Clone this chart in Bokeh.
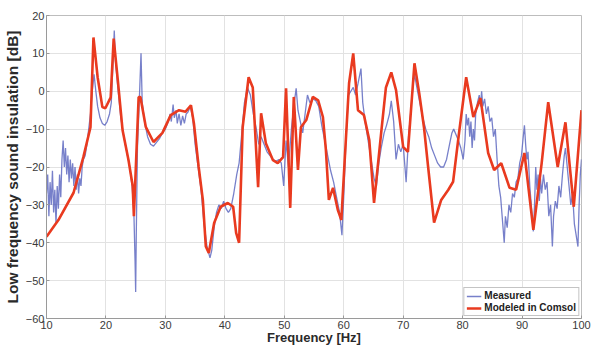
from bokeh.plotting import figure
from bokeh.models import FixedTicker, Range1d, Legend, LegendItem
from bokeh.embed import file_html
from bokeh.resources import INLINE

# Modeled in Comsol (red)
model_freq = [10.0, 12.0, 14.55, 16.2, 17.4, 17.9, 18.6, 19.4, 19.9, 20.8, 21.3, 22.0, 22.8, 23.8,
              24.5, 24.7, 25.5, 25.8, 26.7, 28.0, 29.5, 30.9, 32.3, 33.4, 34.3, 34.8, 35.6, 36.3,
              36.8, 37.3, 38.2, 39.3, 40.5, 41.4, 41.9, 42.4, 43.0, 44.0, 44.7, 45.6, 46.1, 46.9,
              48.1, 48.9, 49.8, 50.3, 51.0, 51.6, 52.3, 52.8, 53.7, 54.8, 55.7, 56.5, 57.0, 57.5,
              58.2, 59.0, 59.6, 60.1, 60.9, 61.6, 62.4, 63.4, 64.3, 65.1, 66.3, 67.1, 68.0, 68.8,
              70.0, 70.8, 71.9, 72.7, 73.5, 74.2, 75.2, 76.4, 77.6, 78.4, 79.4, 80.6, 81.8, 83.0,
              84.3, 85.3, 86.5, 87.9, 89.0, 90.4, 91.9, 93.3, 94.4, 96.0, 97.3, 98.7, 100.0]
model_db = [-38.4, -34.0, -26.8, -17.4, -9.5, 14.2, 3.7, -4.2, -4.5, -1.6, 13.9, 2.9, -10.3, -18.2,
            -25.0, -33.0, -1.5, -1.5, -9.4, -13.4, -11.0, -6.3, -5.0, -5.4, -3.7, -8.5, -20.0, -28.7,
            -41.0, -42.7, -34.8, -30.5, -29.5, -30.5, -37.4, -40.0, -9.5, 3.7, 1.0, -25.3, -5.8, -13.7,
            -18.2, -19.0, -17.4, 0.8, -30.8, -1.5, -20.8, -9.5, -7.6, -1.5, -2.4, -6.8, -15.5, -28.7,
            -25.5, -31.3, -34.0, -20.0, 2.1, 10.0, -5.0, -6.3, -12.9, -29.5, -11.0, 1.0, 5.0, 0.3,
            -14.7, -16.0, 7.4, -0.5, -9.5, -20.0, -34.7, -28.7, -26.0, -23.9, -11.0, 3.7, -6.8, -1.8,
            -16.3, -20.8, -19.0, -25.5, -26.0, -16.3, -36.6, -19.0, -2.9, -20.0, -8.2, -30.5, -5.0]

# Measured (blue)
meas_freq = [10.0, 10.2, 10.4, 10.6, 10.8, 11.0, 11.2, 11.4, 11.6, 11.8, 12.0, 12.2, 12.4, 12.6,
             12.8, 13.0, 13.2, 13.4, 13.6, 13.8, 14.0, 14.2, 14.4, 14.6, 14.8, 15.0, 15.2, 15.4,
             15.6, 15.8, 16.0, 16.2, 16.5, 16.8, 17.1, 17.4, 17.7, 18.0, 18.3, 18.6, 19.0, 19.4,
             19.8, 20.2, 20.6, 20.9, 21.2, 21.4, 21.6, 22.0, 22.5, 23.0, 23.5, 24.0, 24.4, 24.7,
             24.9, 25.0, 25.1, 25.3, 25.6, 25.9, 26.1, 26.5, 27.0, 27.5, 28.0, 28.5, 29.0, 29.5,
             30.0, 30.5, 30.8, 31.0, 31.3, 31.5, 31.8, 32.0, 32.3, 32.6, 32.9, 33.2, 33.5, 33.8,
             34.2, 34.6, 35.0, 35.5, 36.0, 36.5, 37.0, 37.5, 37.8, 38.2, 38.6, 39.0, 39.4, 39.8,
             40.2, 40.6, 41.0, 41.5, 42.0, 42.4, 42.8, 43.3, 43.8, 44.3, 44.8, 45.3, 45.7, 46.1,
             46.6, 47.1, 47.6, 48.1, 48.6, 49.1, 49.5, 49.9, 50.3, 50.7, 51.2, 51.6, 52.0, 52.3,
             52.7, 53.1, 53.5, 53.9, 54.3, 54.8, 55.3, 55.8, 56.3, 56.8, 57.3, 57.8, 58.3, 58.8,
             59.3, 59.7, 60.0, 60.4, 60.8, 61.2, 61.6, 62.0, 62.4, 62.9, 63.2, 63.6, 64.1, 64.6,
             65.1, 65.5, 65.9, 66.3, 66.8, 67.2, 67.7, 68.0, 68.4, 68.8, 69.2, 69.6, 70.0, 70.5,
             70.9, 71.3, 71.7, 71.9, 72.3, 72.8, 73.3, 73.8, 74.3, 74.8, 75.3, 75.8, 76.3, 76.8,
             77.3, 77.8, 78.2, 78.5, 78.9, 79.3, 79.7, 80.1, 80.4, 80.6, 80.8, 81.0, 81.2, 81.4,
             81.6, 81.8, 82.0, 82.2, 82.5, 82.8, 83.0, 83.2, 83.4, 83.7, 84.0, 84.3, 84.6, 84.9,
             85.2, 85.5, 85.8, 86.1, 86.4, 86.7, 87.0, 87.2, 87.5, 87.8, 88.1, 88.4, 88.7, 89.0,
             89.3, 89.6, 89.9, 90.2, 90.4, 90.6, 90.8, 91.0, 91.3, 91.6, 91.9, 92.1, 92.3, 92.5,
             92.7, 92.9, 93.1, 93.3, 93.6, 93.9, 94.2, 94.5, 94.8, 95.1, 95.3, 95.6, 95.9, 96.2,
             96.5, 96.8, 97.1, 97.3, 97.6, 97.9, 98.2, 98.5, 98.8, 99.1, 99.4, 99.6, 99.8, 100.0]
meas_db = [-27, -22, -33, -24, -30, -21, -32, -26, -35, -25, -31, -22, -28, -18,
           -13, -20, -15, -22, -17, -24, -18, -23, -19, -25, -20, -26, -22, -27,
           -23, -25, -20, -18, -17, -14, -10, -6, 0, 4.5, 0, -4, -7, -8.5,
           -9, -8, -6, -3, 8, 16, 8, 1, -7, -12, -16, -20, -25, -32,
           -45, -53, -38, -15, -3, 10, -3, -8, -12, -14, -14.5, -13.5, -12.5, -11,
           -10, -8, -6, -8, -3.5, -7, -5, -8.5, -6, -9, -6.5, -8.5, -6, -5.5,
           -4, -7, -14, -20, -26, -35, -41, -44, -42, -36, -32, -30, -31, -29,
           -31, -32, -31, -27, -22, -19, -12, -3, 1, -1, -6, -10, -14, -12,
           -14, -16, -17, -18, -18.5, -18, -19, -25, -13, -20, -10, -4, 0.8, -5,
           -8, -11, -6, -1, -3, -2, -2.5, -4, -9, -13, -17, -21, -24, -28,
           -32, -38, -28, -12, -1, 0, 1, -1, 2, 6, -3, -8, -13, -18,
           -23, -25, -19, -15, -11, -9, -6, -2.5, -8, -18, -14, -16, -14, -24,
           -12, -5, 2, 4.5, 1, -3, -7, -10, -12, -15, -17, -19, -20, -20,
           -18, -14, -11, -10, -11.5, -13, -15, -18, -13, -6, -9, -7, -12, -8,
           -15, -10, -13, -6, -3, -1, -4, 0, -4, -2, -6, -4, -8, -7,
           -12, -10, -18, -25, -28, -34, -40, -33, -36, -30, -32, -27, -28, -24,
           -23, -19, -17, -12, -9, -14, -18, -16, -25, -31, -37, -30, -20, -26,
           -22, -29, -23, -27, -22, -26, -24, -33, -30, -41, -33, -29, -31, -25,
           -28, -22, -17, -15, -20, -25, -30, -27, -35, -38, -41, -30, -22, -18]

x_ticks = [10, 20, 30, 40, 50, 60, 70, 80, 90, 100]
y_ticks = [-60, -50, -40, -30, -20, -10, 0, 10, 20]

p = figure(width=595, height=347, output_backend="svg", toolbar_location=None,
           x_range=Range1d(10, 100), y_range=Range1d(-60, 20),
           min_border_top=15, min_border_right=14, min_border_left=46, min_border_bottom=24)

p.background_fill_color = "white"
p.border_fill_color = "white"
p.outline_line_color = "#bdbdbd"

r_meas = p.line(meas_freq, meas_db, line_color="#5560bd", line_width=1.3, line_alpha=0.8)
r_model = p.line(model_freq, model_db, line_color="#e93a1f", line_width=2.6)

p.xaxis.ticker = FixedTicker(ticks=x_ticks)
p.yaxis.ticker = FixedTicker(ticks=y_ticks)
for ax in (p.xaxis[0], p.yaxis[0]):
    ax.axis_line_color = "#9a9a9a"
    ax.major_tick_line_color = "#9a9a9a"
    ax.major_tick_in = 3
    ax.major_tick_out = 0
    ax.minor_tick_line_color = None
    ax.major_label_text_font = "Liberation Sans"
    ax.major_label_text_font_size = "11px"
    ax.major_label_text_color = "#3a3a3a"
    ax.axis_label_text_font = "Liberation Sans"
    ax.axis_label_text_font_style = "bold"
    ax.axis_label_text_color = "#2a2a2a"
    ax.major_label_standoff = 2

p.xaxis.axis_label = "Frequency [Hz]"
p.yaxis.axis_label = "Low frequency sound insulation [dB]"
p.xaxis.axis_label_text_font_size = "13px"
p.yaxis.axis_label_text_font_size = "15.5px"
p.xaxis.axis_label_standoff = -2
p.yaxis.axis_label_standoff = 2

p.xgrid.grid_line_color = "#e2e2e2"
p.ygrid.grid_line_color = "#e2e2e2"

legend = Legend(items=[LegendItem(label="Measured", renderers=[r_meas]),
                       LegendItem(label="Modeled in Comsol", renderers=[r_model])],
                location="bottom_right")
legend.label_text_font = "Liberation Sans"
legend.label_text_font_size = "10px"
legend.label_text_font_style = "bold"
legend.label_text_color = "#222222"
legend.label_height = 10
legend.glyph_height = 10
legend.glyph_width = 15
legend.spacing = 1
legend.padding = 2
legend.margin = 2
legend.label_standoff = 3
legend.border_line_color = "#8a8a8a"
legend.background_fill_alpha = 1.0
p.add_layout(legend)

open("out.html", "w").write(file_html(p, INLINE))
